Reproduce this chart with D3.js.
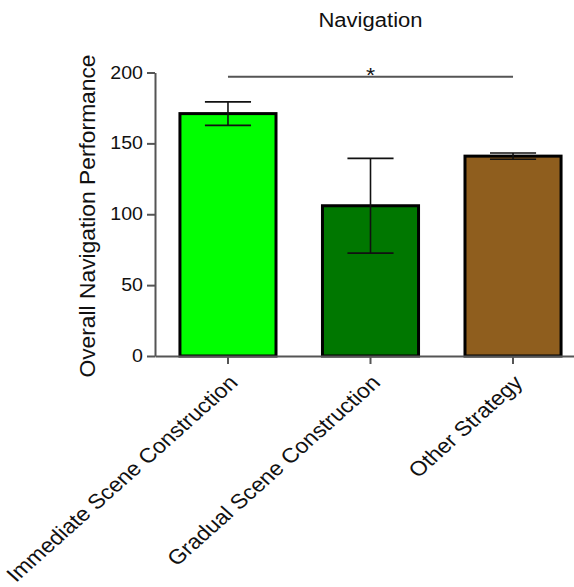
<!DOCTYPE html>
<html>
<head>
    <meta charset="utf-8">
    <script src="https://cdn.jsdelivr.net/npm/d3@7/dist/d3.min.js"></script>
</head>
<body style="margin:0;background:#fff;">
<style>
    text{font-family:"Liberation Sans",Arial,sans-serif;fill:#111;}
    .axis path,.axis line{stroke:#555;stroke-width:2px;}
    .axis text{font-size:17.5px;fill:#111;}
</style>
<script>
    var categories=['Immediate Scene Construction','Gradual Scene Construction','Other Strategy'];
    var means=[171,106,141];
    var sems=[8.3,33.4,2.2];
    var barColors=['#00ff00','#007700','#8f5e1e'];
    var yTicks=[0,50,100,150,200];
    var sigPair=[0,2], sigLevel=197, sigLabel='*';

    var w=574,h=587;
    var stretch=1.12; // the source figure is a bit wider than tall
    var svg=d3.select('body').append('svg').attr('width',w).attr('height',h);

    var x=d3.scaleBand().domain(categories).range([155,586]).paddingInner(0.326).paddingOuter(0.175);
    var y=d3.scaleLinear().domain([0,200]).range([356,72.5]);

    // bars
    svg.selectAll('rect.bar').data(categories).enter().append('rect')
        .attr('class','bar')
        .attr('x',function(d){return x(d)})
        .attr('width',x.bandwidth())
        .attr('y',function(d,i){return y(means[i])})
        .attr('height',function(d,i){return y(0)-y(means[i])})
        .attr('fill',function(d,i){return barColors[i]})
        .attr('stroke','#000').attr('stroke-width',3);

    // error bars
    var cap=x.bandwidth()*0.24;
    var eb=svg.selectAll('g.err').data(categories).enter().append('g').attr('class','err')
        .attr('stroke','#111').attr('stroke-width',1.6);
    eb.append('line')
        .attr('x1',function(d){return x(d)+x.bandwidth()/2}).attr('x2',function(d){return x(d)+x.bandwidth()/2})
        .attr('y1',function(d,i){return y(means[i]+sems[i])}).attr('y2',function(d,i){return y(means[i]-sems[i])});
    eb.append('line')
        .attr('x1',function(d){return x(d)+x.bandwidth()/2-cap}).attr('x2',function(d){return x(d)+x.bandwidth()/2+cap})
        .attr('y1',function(d,i){return y(means[i]+sems[i])}).attr('y2',function(d,i){return y(means[i]+sems[i])});
    eb.append('line')
        .attr('x1',function(d){return x(d)+x.bandwidth()/2-cap}).attr('x2',function(d){return x(d)+x.bandwidth()/2+cap})
        .attr('y1',function(d,i){return y(means[i]-sems[i])}).attr('y2',function(d,i){return y(means[i]-sems[i])});

    // axes
    var ya=svg.append('g').attr('class','axis').attr('transform','translate(155,0)')
        .call(d3.axisLeft(y).tickValues(yTicks).tickSize(8).tickPadding(3).tickSizeOuter(0));
    ya.selectAll('text').attr('x',0).attr('transform','translate(-12,0) scale('+stretch+',1)');

    var xa=svg.append('g').attr('class','axis').attr('transform','translate(0,356)')
        .call(d3.axisBottom(x).tickSize(8).tickSizeOuter(0));
    xa.selectAll('text')
        .style('font-size','20.6px')
        .attr('text-anchor','end')
        .attr('x',0).attr('y',0).attr('dy',0)
        .attr('transform','translate(11,28) scale('+stretch+',1) rotate(-45)');

    // significance
    var sx1=x(categories[sigPair[0]])+x.bandwidth()/2, sx2=x(categories[sigPair[1]])+x.bandwidth()/2;
    svg.append('line').attr('x1',sx1).attr('x2',sx2).attr('y1',y(sigLevel)).attr('y2',y(sigLevel))
        .attr('stroke','#555').attr('stroke-width',2);
    svg.append('text').attr('text-anchor','middle')
        .attr('transform','translate('+((sx1+sx2)/2)+','+(y(sigLevel)+5)+') scale('+stretch+',1)')
        .style('font-size','21px').text(sigLabel);

    // title and y label
    svg.append('text').attr('text-anchor','middle')
        .attr('transform','translate(370.5,27) scale(1.13,1)')
        .style('font-size','19.5px').text('Navigation');
    svg.append('text').attr('transform','translate(95,216) rotate(-90)').attr('text-anchor','middle')
        .style('font-size','22.8px').text('Overall Navigation Performance');
</script>
</body>
</html>
